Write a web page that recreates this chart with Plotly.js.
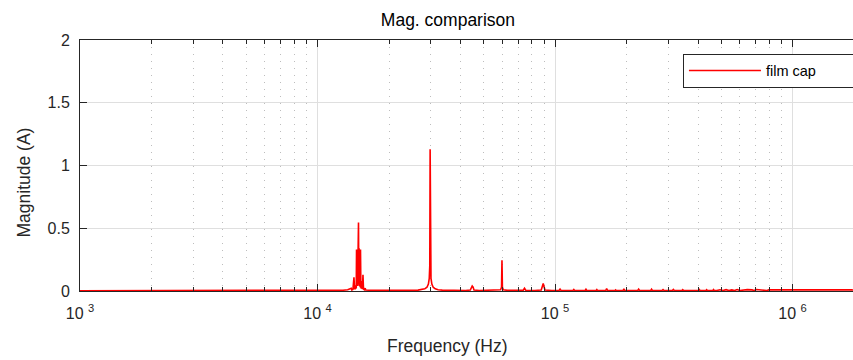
<!DOCTYPE html>
<html>
<head>
<meta charset="utf-8">
<script src="https://cdn.plot.ly/plotly-3.0.1.min.js"></script>
<style>html,body{margin:0;padding:0;background:#fff;}#chart{width:853px;height:360px;}</style>
</head>
<body>
<div id="chart"></div>
<script>
// ---- data ----
const seriesName = 'film cap';
const freqHz = [
  1000, 1500, 2000, 3000, 4000, 5000, 6000, 7000, 8000, 9000,
  10000, 11000, 12000, 12800, 13400, 13870, 13950, 14100, 14240, 14330,
  14440, 14520, 14560, 14600, 14650, 14700, 14750, 14800, 14840, 14880,
  14930, 14970, 15020, 15070, 15120, 15170, 15230, 15300, 15390, 15460,
  15540, 15620, 15750, 15880, 15960, 16500, 17500, 19000, 21000, 23000,
  25000, 26500, 27500, 28300, 28900, 29300, 29550, 29700, 29800, 29900,
  30050, 30300, 30700, 31300, 32200, 33500, 35500, 38000, 42000, 44000,
  44400, 44800, 45200, 45600, 48000, 53000, 57000, 59000, 59550, 59800,
  60050, 60600, 63000, 68000, 73500, 74400, 75300, 82000, 87500, 89200,
  90700, 97000, 104000, 105000, 106000, 119000, 120000, 121000, 134000, 135000,
  136000, 149000, 150000, 151000, 163500, 165000, 166500, 179000, 180000, 181000,
  193500, 195000, 196500, 223000, 225000, 227000, 253000, 255000, 257000, 282000,
  285000, 288000, 312000, 315000, 318000, 342000, 345000, 348000, 372000, 375000,
  378000, 402000, 405000, 408000, 432000, 435000, 438000, 462000, 465000, 468000,
  480000, 495000, 510000, 525000, 540000, 555000, 570000, 585000, 600000, 615000,
  645000, 675000, 690000, 705000, 735000, 765000, 780000, 795000, 825000, 855000,
  885000, 915000, 945000, 975000, 1005000, 1050000, 1095000, 1140000, 1185000, 1230000,
  1275000, 1320000, 1365000, 1410000, 1455000, 1500000, 1545000, 1590000, 1635000, 1680000,
  1725000, 1770000, 1800000
];
const magA = [
  0.002, 0.002, 0.003, 0.002, 0.003, 0.003, 0.003, 0.003, 0.003, 0.004,
  0.004, 0.004, 0.005, 0.006, 0.010, 0.022, 0.008, 0.012, 0.110, 0.014,
  0.020, 0.045, 0.020, 0.330, 0.030, 0.300, 0.040, 0.340, 0.050, 0.545,
  0.050, 0.340, 0.040, 0.300, 0.030, 0.330, 0.030, 0.020, 0.080, 0.015,
  0.130, 0.015, 0.010, 0.022, 0.008, 0.006, 0.005, 0.004, 0.004, 0.004,
  0.005, 0.007, 0.010, 0.017, 0.030, 0.055, 0.100, 0.200, 1.130, 0.200,
  0.100, 0.055, 0.030, 0.017, 0.010, 0.007, 0.005, 0.004, 0.004, 0.008,
  0.030, 0.040, 0.030, 0.008, 0.004, 0.004, 0.005, 0.010, 0.030, 0.245,
  0.030, 0.010, 0.005, 0.004, 0.006, 0.022, 0.006, 0.004, 0.008, 0.060,
  0.008, 0.004, 0.004, 0.015, 0.004, 0.004, 0.012, 0.004, 0.004, 0.014,
  0.004, 0.004, 0.011, 0.004, 0.004, 0.020, 0.004, 0.004, 0.009, 0.004,
  0.004, 0.016, 0.004, 0.004, 0.015, 0.004, 0.004, 0.014, 0.004, 0.004,
  0.012, 0.004, 0.004, 0.013, 0.004, 0.004, 0.011, 0.004, 0.004, 0.010,
  0.004, 0.004, 0.012, 0.004, 0.004, 0.010, 0.004, 0.004, 0.011, 0.004,
  0.004, 0.010, 0.004, 0.011, 0.004, 0.009, 0.004, 0.012, 0.004, 0.008,
  0.011, 0.009, 0.004, 0.012, 0.008, 0.010, 0.004, 0.009, 0.011, 0.008,
  0.010, 0.009, 0.011, 0.008, 0.010, 0.009, 0.011, 0.008, 0.010, 0.009,
  0.011, 0.008, 0.010, 0.009, 0.011, 0.008, 0.010, 0.009, 0.011, 0.008,
  0.010, 0.009, 0.008
];
const xTickVals = [1e3, 1e4, 1e5, 1e6];
const xTickText = ['10 <sup>3</sup>', '10 <sup>4</sup>', '10 <sup>5</sup>', '10 <sup>6</sup>'];
const yTickVals = [0, 0.5, 1, 1.5, 2];
const yTickText = ['0', '0.5', '1', '1.5', '2'];
const titleText = 'Mag. comparison';
const xLabel = 'Frequency (Hz)';
const yLabel = 'Magnitude (A)';

// ---- chart ----
const axisCol = '#262626';
const fontFam = '"Liberation Sans", Arial, Helvetica, sans-serif';

const trace = {
  type: 'scatter', mode: 'lines', name: seriesName,
  x: freqHz, y: magA,
  line: {color: '#ff0000', width: 1.6},
  hoverinfo: 'x+y'
};

const layout = {
  width: 853, height: 360,
  margin: {l: 80, r: 0, t: 40, b: 69, pad: 0, autoexpand: false},
  paper_bgcolor: '#ffffff', plot_bgcolor: '#ffffff',
  font: {family: fontFam, color: axisCol, size: 16},
  title: {text: titleText, font: {family: fontFam, size: 17.5, color: '#000'},
          xref: 'paper', x: 0.476, xanchor: 'center',
          yref: 'container', y: 1 - 20 / 360, yanchor: 'middle'},
  showlegend: true,
  legend: {orientation: 'h', x: 0.780, y: 0.946, xanchor: 'left', yanchor: 'top',
           bgcolor: '#ffffff', bordercolor: axisCol, borderwidth: 1,
           font: {family: fontFam, size: 14.5, color: '#000'},
           itemwidth: 72, entrywidth: 93, entrywidthmode: 'pixels'},
  xaxis: {
    type: 'log', range: [3, 6.2547],
    tickmode: 'array', tickvals: xTickVals, ticktext: xTickText,
    ticks: 'inside', ticklen: 7, tickwidth: 1, tickcolor: axisCol,
    showline: true, linecolor: axisCol, linewidth: 1, mirror: 'ticks',
    showgrid: true, gridcolor: '#dfdfdf', gridwidth: 1, zeroline: false,
    tickfont: {family: fontFam, size: 16, color: axisCol},
    ticklabelstandoff: 8,
    minor: {dtick: 'D1', ticks: 'inside', ticklen: 4, tickwidth: 1, tickcolor: axisCol,
            showgrid: true, gridcolor: '#bdbdbd', gridwidth: 1, griddash: '1px,6px'}
  },
  yaxis: {
    range: [0, 2], tickmode: 'array', tickvals: yTickVals, ticktext: yTickText,
    ticks: 'inside', ticklen: 7, tickwidth: 1, tickcolor: axisCol,
    showline: true, linecolor: axisCol, linewidth: 1, mirror: false,
    showgrid: true, gridcolor: '#dfdfdf', gridwidth: 1, zeroline: false,
    tickfont: {family: fontFam, size: 16, color: axisCol},
    ticklabelstandoff: 6
  },
  annotations: [
    {text: xLabel, xref: 'paper', yref: 'paper', x: 0.476, y: -0.219,
     xanchor: 'center', yanchor: 'middle', showarrow: false,
     font: {family: fontFam, size: 17.5, color: axisCol}},
    {text: yLabel, xref: 'paper', yref: 'paper', x: (23.5 - 80) / 773, y: (291 - 183) / 251,
     xanchor: 'center', yanchor: 'middle', textangle: -90, showarrow: false,
     font: {family: fontFam, size: 17.5, color: axisCol}}
  ]
};

Plotly.newPlot('chart', [trace], layout, {displayModeBar: false, staticPlot: true});
</script>
</body>
</html>
